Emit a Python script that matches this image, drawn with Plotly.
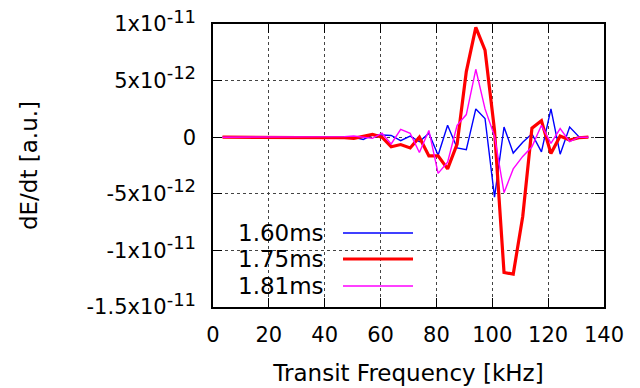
import plotly.graph_objects as go

# Transit frequency [kHz]
freq_khz = [3.4, 6.7, 10.1, 13.4, 16.8, 20.2, 23.5, 26.9, 30.2, 33.6,
            37.0, 40.3, 43.7, 47.0, 50.4, 53.8, 57.1, 60.5, 63.8, 67.2,
            70.6, 73.9, 77.3, 80.6, 84.0, 87.4, 90.7, 94.1, 97.4, 100.8,
            104.2, 107.5, 110.9, 114.2, 117.6, 121.0, 124.3, 127.7, 131.0, 134.4]

UNIT = 1e-12  # values below are in units of 1e-12 a.u.

dedt_160 = [0, 0, 0, 0, 0, 0, 0, 0, 0, 0,
            0, 0, 0, 0.05, 0.0, -0.2, 0.18, 0.2, 0.15, -0.3,
            0.1, -0.4, 0.35, -1.6, 1.05, -0.95, -1.1, 2.5, 1.65, -5.3,
            0.9, -1.4, -0.45, 0.3, -1.3, 2.5, -1.5, 0.9, 0.05, 0]

dedt_175 = [0, 0, 0, 0, 0, 0, 0, 0, 0, 0,
            0, 0, 0, -0.05, -0.1, 0.05, 0.25, 0.0, -0.85, -0.65,
            -0.95, 0.0, -1.65, -1.65, -2.8, -0.6, 5.8, 9.7, 7.7, 0.6,
            -11.95, -12.1, -7.0, 0.8, 1.45, -1.45, 0.1, -0.25, -0.05, 0]

dedt_181 = [0, 0, 0, 0, 0, 0, 0, 0, 0, 0,
            0, 0, 0.05, 0.05, 0.1, 0.0, -0.1, 0.35, -0.6, 0.7,
            0.35, -1.35, 0.6, -3.2, -2.2, 1.05, 2.0, 6.0, 2.5, 0.1,
            -4.9, -2.8, -1.7, -0.85, 1.05, -0.55, 0.76, -0.4, 0.0, 0]

series = [
    ("1.60ms", dedt_160, "#0000ff", 1.4),
    ("1.75ms", dedt_175, "#ff0000", 3.2),
    ("1.81ms", dedt_181, "#ff00ff", 1.4),
]

x_ticks = [0, 20, 40, 60, 80, 100, 120, 140]
y_tickvals = [1e-11, 5e-12, 0, -5e-12, -1e-11, -1.5e-11]
y_mantissa = ["1", "5", "0", "-5", "-1", "-1.5"]
y_exponent = ["-11", "-12", None, "-12", "-11", "-11"]

def tick_label(m, e):
    if e is None:
        return m
    return f"{m}x10<sup><span style='font-size:18px'>{e}</span></sup>"

y_ticktext = [tick_label(m, e) for m, e in zip(y_mantissa, y_exponent)]

FONT = "DejaVu Sans, Arial, sans-serif"

fig = go.Figure()
for name, vals, color, width in series:
    fig.add_trace(go.Scatter(
        x=freq_khz, y=[v * UNIT for v in vals], mode="lines", name=name,
        line=dict(color=color, width=width), showlegend=False))

# plot area in pixels: x 213..604, y 24..307
W, H = 640, 388
L, R, T, B = 213, 604, 24, 307
def px(xp):
    return (xp - L) / (R - L)
def py(yp):
    return (B - yp) / (B - T)

shapes = [dict(type="rect", xref="paper", yref="paper",
               x0=0, x1=px(430), y0=0, y1=py(220),
               fillcolor="white", line=dict(width=0), layer="between")]
annotations = []
legend_y = [233, 259, 286]
for (name, vals, color, width), yy in zip(series, legend_y):
    annotations.append(dict(xref="paper", yref="paper", x=px(326), y=py(yy),
                            text=name, showarrow=False, xanchor="right",
                            yanchor="middle", font=dict(size=23, color="black", family=FONT)))
    shapes.append(dict(type="line", xref="paper", yref="paper",
                       x0=px(343), x1=px(413), y0=py(yy), y1=py(yy),
                       line=dict(color=color, width=width), layer="above"))

fig.update_layout(
    width=W, height=H,
    margin=dict(l=L, r=W - R, t=T, b=H - B),
    paper_bgcolor="white", plot_bgcolor="white",
    font=dict(family=FONT, size=21, color="black"),
    shapes=shapes, annotations=annotations,
)
fig.update_xaxes(
    range=[0, 140], tickvals=x_ticks, ticks="inside", ticklen=9, tickwidth=1,
    tickcolor="black", showline=True, linecolor="black", linewidth=1.5, mirror="ticks",
    showgrid=True, gridcolor="#444444", griddash="dot", gridwidth=1, zeroline=False,
    ticklabelstandoff=8, automargin=False,
    title=dict(text="Transit Frequency [kHz]", font=dict(size=23), standoff=19),
)
fig.update_yaxes(
    range=[-1.5e-11, 1e-11], tickvals=y_tickvals, ticktext=y_ticktext,
    ticks="inside", ticklen=9, tickwidth=1, tickcolor="black",
    showline=True, linecolor="black", linewidth=1.5, mirror="ticks",
    showgrid=True, gridcolor="#444444", griddash="dot", gridwidth=1, zeroline=False,
    ticklabelstandoff=11, automargin=False,
    title=dict(text="dE/dt [a.u.]", font=dict(size=23), standoff=42),
)

fig.write_html("out.html")
